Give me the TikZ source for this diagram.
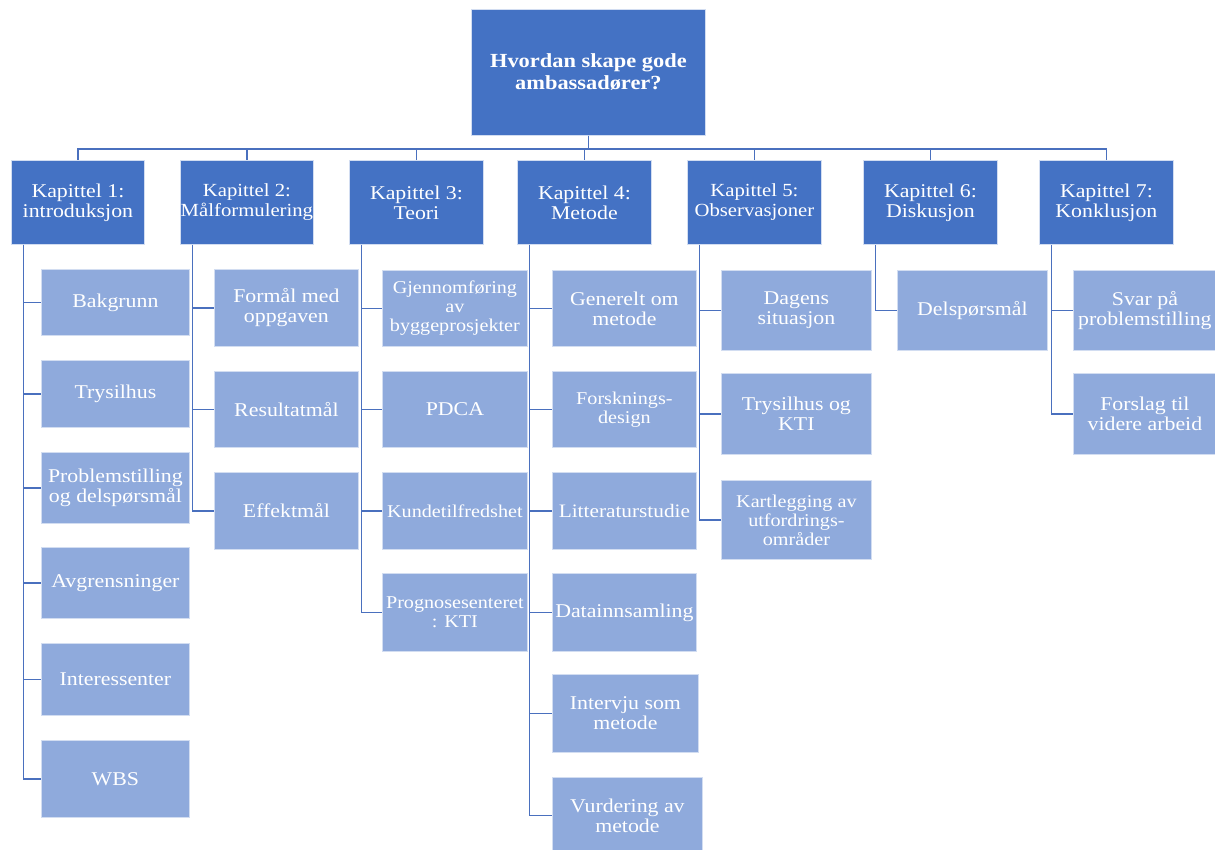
\documentclass[tikz,border=0pt]{standalone}
\usepackage{fontspec}
\setmainfont{Liberation Serif}[FakeStretch=1.12]
\usetikzlibrary{calc}
\definecolor{headblue}{HTML}{4472C4}
\definecolor{subblue}{HTML}{8FAADC}
\definecolor{linkblue}{HTML}{4A70BE}
\tikzset{
  boxbase/.style={draw=white!60!subblue, line width=0.8pt, inner sep=0pt,
    align=center, text=white, anchor=north west},
  head/.style={boxbase, fill=headblue, font=\fontsize{19.5}{20}\selectfont},
  top/.style={boxbase, fill=headblue, font=\bfseries\fontsize{20}{22}\selectfont},
  sub/.style={boxbase, fill=subblue, font=\fontsize{19.5}{20}\selectfont},
  small/.style={font=\fontsize{18}{19}\selectfont},
  link/.style={draw=linkblue, line width=1.8pt},
}
\begin{document}
\begin{tikzpicture}[x=1pt,y=-1pt]
\useasboundingbox (0,0) rectangle (1215,850);

% root
\node[top, minimum width=234pt, minimum height=126pt] (top) at (471,9)
  {Hvordan skape gode\\ambassadører?};

% chapters
\node[head, minimum width=133pt, minimum height=84pt] (k1) at (11,160) {Kapittel 1:\\introduksjon};
\node[head, minimum width=133pt, minimum height=84pt, font=\fontsize{18.5}{20}\selectfont] (k2) at (180,160) {Kapittel 2:\\Målformulering};
\node[head, minimum width=134pt, minimum height=84pt] (k3) at (349,160) {Kapittel 3:\\Teori};
\node[head, minimum width=134pt, minimum height=84pt] (k4) at (517,160) {Kapittel 4:\\Metode};
\node[head, minimum width=134pt, minimum height=84pt, font=\fontsize{18.5}{20}\selectfont] (k5) at (687,160) {Kapittel 5:\\Observasjoner};
\node[head, minimum width=134pt, minimum height=84pt] (k6) at (863,160) {Kapittel 6:\\Diskusjon};
\node[head, minimum width=134pt, minimum height=84pt] (k7) at (1039,160) {Kapittel 7:\\Konklusjon};

% chapter 1
\node[sub, minimum width=148pt, minimum height=66pt] (a1) at (41,269) {Bakgrunn};
\node[sub, minimum width=148pt, minimum height=67pt] (a2) at (41,360) {Trysilhus};
\node[sub, minimum width=148pt, minimum height=71pt] (a3) at (41,452) {Problemstilling\\og delspørsmål};
\node[sub, minimum width=148pt, minimum height=71pt] (a4) at (41,547) {Avgrensninger};
\node[sub, minimum width=148pt, minimum height=72pt] (a5) at (41,643) {Interessenter};
\node[sub, minimum width=148pt, minimum height=77pt] (a6) at (41,740) {WBS};

% chapter 2
\node[sub, minimum width=144pt, minimum height=77pt] (b1) at (214,269) {Formål med\\oppgaven};
\node[sub, minimum width=144pt, minimum height=76pt] (b2) at (214,371) {Resultatmål};
\node[sub, minimum width=144pt, minimum height=77pt] (b3) at (214,472) {Effektmål};

% chapter 3
\node[sub, small, minimum width=145pt, minimum height=76pt] (c1) at (382,270) {Gjennomføring\\av\\byggeprosjekter};
\node[sub, minimum width=145pt, minimum height=76pt] (c2) at (382,371) {PDCA};
\node[sub, small, minimum width=145pt, minimum height=77pt] (c3) at (382,472) {Kundetilfredshet};
\node[sub, small, minimum width=145pt, minimum height=78pt] (c4) at (382,573) {Prognosesenteret\\: KTI};

% chapter 4
\node[sub, minimum width=144pt, minimum height=76pt] (d1) at (552,270) {Generelt om\\metode};
\node[sub, small, minimum width=144pt, minimum height=76pt] (d2) at (552,371) {Forsknings-\\design};
\node[sub, font=\fontsize{19}{20}\selectfont, minimum width=144pt, minimum height=77pt] (d3) at (552,472) {Litteraturstudie};
\node[sub, minimum width=144pt, minimum height=78pt] (d4) at (552,573) {Datainnsamling};
\node[sub, minimum width=146pt, minimum height=78pt] (d5) at (552,674) {Intervju som\\metode};
\node[sub, minimum width=150pt, minimum height=76pt] (d6) at (552,777) {Vurdering av\\metode};

% chapter 5
\node[sub, minimum width=150pt, minimum height=80pt] (e1) at (721,270) {Dagens\\situasjon};
\node[sub, minimum width=150pt, minimum height=81pt] (e2) at (721,373) {Trysilhus og\\KTI};
\node[sub, small, minimum width=150pt, minimum height=79pt] (e3) at (721,480) {Kartlegging av\\utfordrings-\\områder};

% chapter 6
\node[sub, minimum width=150pt, minimum height=80pt] (f1) at (897,270) {Delspørsmål};

% chapter 7
\node[sub, minimum width=143pt, minimum height=80pt] (g1) at (1073,270) {Svar på\\problemstilling};
\node[sub, minimum width=143pt, minimum height=81pt] (g2) at (1073,373) {Forslag til\\videre arbeid};

% root to chapters
\coordinate (bus) at (0,149);
\foreach \k in {k1,k2,k3,k4,k5,k6,k7}
  \draw[link] (top.south) |- (\k.north |- bus) -- (\k.north);

% chapters to their sections
\foreach \k/\l in {k1/{a1,a2,a3,a4,a5,a6}, k2/{b1,b2,b3}, k3/{c1,c2,c3,c4},
                   k4/{d1,d2,d3,d4,d5,d6}, k5/{e1,e2,e3}, k6/{f1}, k7/{g1,g2}}
  \foreach \s in \l
    \draw[link] ($(\k.south west)+(12.5,0)$) |- (\s.west);
\end{tikzpicture}
\end{document}
